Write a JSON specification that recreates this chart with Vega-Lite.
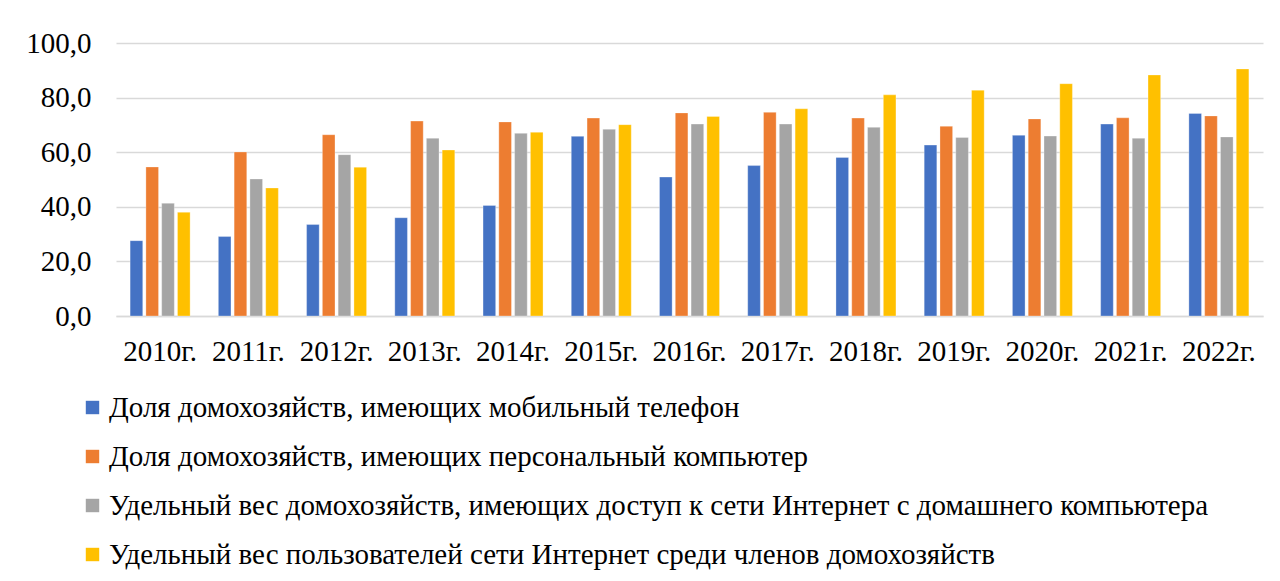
{
  "$schema": "https://vega.github.io/schema/vega-lite/v6.json",
  "width": 1147,
  "height": 273,
  "autosize": "none",
  "padding": {"left": 116, "top": 43, "right": 17, "bottom": 265},
  "background": "white",
  "config": {
    "font": "Liberation Serif",
    "view": {"stroke": null}
  },
  "datasets": {
    "d": [
      {"year": "2010г.", "s": "Доля домохозяйств, имеющих мобильный телефон", "v": 27.6},
      {"year": "2010г.", "s": "Доля домохозяйств, имеющих персональный компьютер", "v": 54.6},
      {"year": "2010г.", "s": "Удельный вес домохозяйств, имеющих доступ к сети Интернет с домашнего компьютера", "v": 41.3},
      {"year": "2010г.", "s": "Удельный вес пользователей сети Интернет среди членов домохозяйств", "v": 38.0},
      {"year": "2011г.", "s": "Доля домохозяйств, имеющих мобильный телефон", "v": 29.1},
      {"year": "2011г.", "s": "Доля домохозяйств, имеющих персональный компьютер", "v": 60.1},
      {"year": "2011г.", "s": "Удельный вес домохозяйств, имеющих доступ к сети Интернет с домашнего компьютера", "v": 50.2},
      {"year": "2011г.", "s": "Удельный вес пользователей сети Интернет среди членов домохозяйств", "v": 46.9},
      {"year": "2012г.", "s": "Доля домохозяйств, имеющих мобильный телефон", "v": 33.5},
      {"year": "2012г.", "s": "Доля домохозяйств, имеющих персональный компьютер", "v": 66.4},
      {"year": "2012г.", "s": "Удельный вес домохозяйств, имеющих доступ к сети Интернет с домашнего компьютера", "v": 59.1},
      {"year": "2012г.", "s": "Удельный вес пользователей сети Интернет среди членов домохозяйств", "v": 54.5},
      {"year": "2013г.", "s": "Доля домохозяйств, имеющих мобильный телефон", "v": 36.0},
      {"year": "2013г.", "s": "Доля домохозяйств, имеющих персональный компьютер", "v": 71.4},
      {"year": "2013г.", "s": "Удельный вес домохозяйств, имеющих доступ к сети Интернет с домашнего компьютера", "v": 65.1},
      {"year": "2013г.", "s": "Удельный вес пользователей сети Интернет среди членов домохозяйств", "v": 60.8},
      {"year": "2014г.", "s": "Доля домохозяйств, имеющих мобильный телефон", "v": 40.5},
      {"year": "2014г.", "s": "Доля домохозяйств, имеющих персональный компьютер", "v": 71.1},
      {"year": "2014г.", "s": "Удельный вес домохозяйств, имеющих доступ к сети Интернет с домашнего компьютера", "v": 66.9},
      {"year": "2014г.", "s": "Удельный вес пользователей сети Интернет среди членов домохозяйств", "v": 67.3},
      {"year": "2015г.", "s": "Доля домохозяйств, имеющих мобильный телефон", "v": 65.8},
      {"year": "2015г.", "s": "Доля домохозяйств, имеющих персональный компьютер", "v": 72.5},
      {"year": "2015г.", "s": "Удельный вес домохозяйств, имеющих доступ к сети Интернет с домашнего компьютера", "v": 68.4},
      {"year": "2015г.", "s": "Удельный вес пользователей сети Интернет среди членов домохозяйств", "v": 70.1},
      {"year": "2016г.", "s": "Доля домохозяйств, имеющих мобильный телефон", "v": 50.9},
      {"year": "2016г.", "s": "Доля домохозяйств, имеющих персональный компьютер", "v": 74.4},
      {"year": "2016г.", "s": "Удельный вес домохозяйств, имеющих доступ к сети Интернет с домашнего компьютера", "v": 70.3},
      {"year": "2016г.", "s": "Удельный вес пользователей сети Интернет среди членов домохозяйств", "v": 73.1},
      {"year": "2017г.", "s": "Доля домохозяйств, имеющих мобильный телефон", "v": 55.1},
      {"year": "2017г.", "s": "Доля домохозяйств, имеющих персональный компьютер", "v": 74.6},
      {"year": "2017г.", "s": "Удельный вес домохозяйств, имеющих доступ к сети Интернет с домашнего компьютера", "v": 70.3},
      {"year": "2017г.", "s": "Удельный вес пользователей сети Интернет среди членов домохозяйств", "v": 75.9},
      {"year": "2018г.", "s": "Доля домохозяйств, имеющих мобильный телефон", "v": 58.1},
      {"year": "2018г.", "s": "Доля домохозяйств, имеющих персональный компьютер", "v": 72.5},
      {"year": "2018г.", "s": "Удельный вес домохозяйств, имеющих доступ к сети Интернет с домашнего компьютера", "v": 69.1},
      {"year": "2018г.", "s": "Удельный вес пользователей сети Интернет среди членов домохозяйств", "v": 81.0},
      {"year": "2019г.", "s": "Доля домохозяйств, имеющих мобильный телефон", "v": 62.6},
      {"year": "2019г.", "s": "Доля домохозяйств, имеющих персональный компьютер", "v": 69.5},
      {"year": "2019г.", "s": "Удельный вес домохозяйств, имеющих доступ к сети Интернет с домашнего компьютера", "v": 65.4},
      {"year": "2019г.", "s": "Удельный вес пользователей сети Интернет среди членов домохозяйств", "v": 82.7},
      {"year": "2020г.", "s": "Доля домохозяйств, имеющих мобильный телефон", "v": 66.2},
      {"year": "2020г.", "s": "Доля домохозяйств, имеющих персональный компьютер", "v": 72.2},
      {"year": "2020г.", "s": "Удельный вес домохозяйств, имеющих доступ к сети Интернет с домашнего компьютера", "v": 65.9},
      {"year": "2020г.", "s": "Удельный вес пользователей сети Интернет среди членов домохозяйств", "v": 85.1},
      {"year": "2021г.", "s": "Доля домохозяйств, имеющих мобильный телефон", "v": 70.3},
      {"year": "2021г.", "s": "Доля домохозяйств, имеющих персональный компьютер", "v": 72.6},
      {"year": "2021г.", "s": "Удельный вес домохозяйств, имеющих доступ к сети Интернет с домашнего компьютера", "v": 65.1},
      {"year": "2021г.", "s": "Удельный вес пользователей сети Интернет среди членов домохозяйств", "v": 88.3},
      {"year": "2022г.", "s": "Доля домохозяйств, имеющих мобильный телефон", "v": 74.2},
      {"year": "2022г.", "s": "Доля домохозяйств, имеющих персональный компьютер", "v": 73.3},
      {"year": "2022г.", "s": "Удельный вес домохозяйств, имеющих доступ к сети Интернет с домашнего компьютера", "v": 65.6},
      {"year": "2022г.", "s": "Удельный вес пользователей сети Интернет среди членов домохозяйств", "v": 90.5}
    ]
  },
  "data": {"name": "d"},
  "mark": {"type": "bar", "stroke": "white", "strokeWidth": 0.5, "strokeOpacity": 0.6},
  "encoding": {
    "x": {
      "field": "year",
      "type": "nominal",
      "sort": null,
      "scale": {"paddingInner": 0.32, "paddingOuter": 0.16},
      "axis": {
        "title": null,
        "labelAngle": 0,
        "labelFontSize": 29,
        "labelColor": "black",
        "labelPadding": 21,
        "ticks": false,
        "domainColor": "#d9d9d9",
        "domainWidth": 1.3
      }
    },
    "xOffset": {
      "field": "s",
      "type": "nominal",
      "sort": null,
      "scale": {"paddingInner": 0.2, "paddingOuter": 0}
    },
    "y": {
      "field": "v",
      "type": "quantitative",
      "scale": {"domain": [0, 100], "nice": false},
      "axis": {
        "title": null,
        "values": [0, 20, 40, 60, 80, 100],
        "labelExpr": "replace(format(datum.value, '.1f'), '.', ',')",
        "labelFontSize": 29,
        "labelColor": "black",
        "labelPadding": 25,
        "ticks": false,
        "domain": false,
        "gridColor": "#d9d9d9",
        "gridWidth": 1.3
      }
    },
    "color": {
      "field": "s",
      "type": "nominal",
      "sort": null,
      "scale": {
        "domain": [
          "Доля домохозяйств, имеющих мобильный телефон",
          "Доля домохозяйств, имеющих персональный компьютер",
          "Удельный вес домохозяйств, имеющих доступ к сети Интернет с домашнего компьютера",
          "Удельный вес пользователей сети Интернет среди членов домохозяйств"
        ],
        "range": ["#4472C4", "#ED7D31", "#A5A5A5", "#FFC000"]
      },
      "legend": {
        "title": null,
        "orient": "none",
        "legendX": -38,
        "legendY": 350,
        "direction": "vertical",
        "symbolType": "square",
        "symbolSize": 180,
        "symbolStrokeWidth": 0,
        "labelFontSize": 29,
        "labelColor": "black",
        "labelLimit": 1200,
        "labelOffset": 2,
        "rowPadding": 19
      }
    }
  }
}
